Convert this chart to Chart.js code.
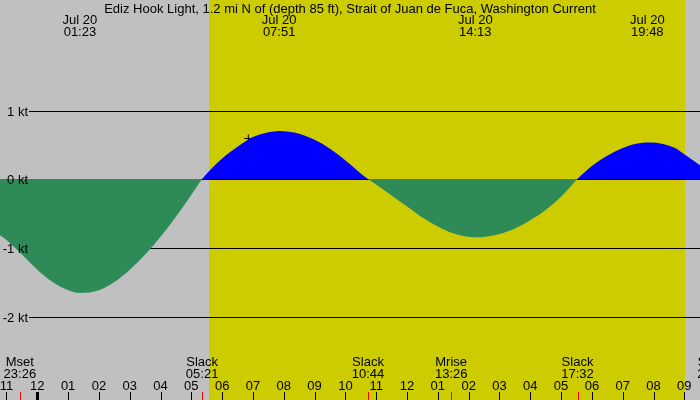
<!DOCTYPE html>
<html>
<head>
<meta charset="utf-8">
<script src="https://cdn.jsdelivr.net/npm/chart.js@4.4.1/dist/chart.umd.min.js"></script>
<style>
  html, body { margin: 0; padding: 0; background: #c0c0c0; }
  #wrap { width: 700px; height: 400px; }
</style>
</head>
<body>
<div id="wrap"><canvas id="currentChart" width="700" height="400"></canvas></div>
<script>
// current speed (kt), hours from midnight Jul 20
const hours  = [-1.21, -1, -0.5, 0, 0.5, 1, 1.38, 2, 2.5, 3, 3.5, 4, 4.5, 5, 5.35,
                6, 6.5, 7, 7.5, 7.85, 8.5, 9, 9.5, 10, 10.73,
                11, 11.5, 12, 12.5, 13, 13.5, 14.22, 15, 15.5, 16, 16.5, 17, 17.53,
                18, 18.5, 19, 19.4, 19.9, 20.3, 20.7, 21, 21.51];
const speeds = [-0.82, -0.89, -1.10, -1.32, -1.50, -1.62, -1.66, -1.62, -1.50, -1.32, -1.10, -0.84, -0.55, -0.23, 0,
                0.30, 0.47, 0.61, 0.68, 0.70, 0.66, 0.57, 0.44, 0.27, 0,
                -0.08, -0.24, -0.40, -0.56, -0.69, -0.79, -0.85, -0.80, -0.72, -0.60, -0.45, -0.26, 0,
                0.19, 0.34, 0.45, 0.51, 0.53, 0.51, 0.45, 0.36, 0.20];

const peakTimes = ['01:23', '07:51', '14:13', '19:48'];
const peakDate = 'Jul 20';

const eventNames = ['Mset', 'Slack', 'Slack', 'Mrise', 'Slack', 'Slack'];
const eventTimes = ['23:26', '05:21', '10:44', '13:26', '17:32', '21:57'];
const eventDays  = [-1, 0, 0, 0, 0, 0];

const hourLabels = ['11', '12', '01', '02', '03', '04', '05', '06', '07', '08', '09', '10', '11', '12', '01', '02', '03', '04', '05', '06', '07', '08', '09'];
const firstHour = -1;

const ktTicks = [1, 0, -1, -2];
const sunrise = '05:34';
const sunset = '21:01';
const nowTime = '06:51';
const nowSpeed = 0.59;

const title = 'Ediz Hook Light, 1.2 mi N of (depth 85 ft), Strait of Juan de Fuca, Washington Current';

function toHours(t, day) {
  const [h, m] = t.split(':').map(Number);
  return h + m / 60 + (day || 0) * 24;
}

const FONT = '13px "Liberation Sans", Arial, sans-serif';

const tidePlugin = {
  id: 'tide',
  beforeDraw(chart) {
    const { ctx, scales: { x } } = chart;
    ctx.save();
    ctx.fillStyle = '#c0c0c0';
    ctx.fillRect(0, 0, chart.width, chart.height);
    const x0 = Math.round(x.getPixelForValue(toHours(sunrise)));
    const x1 = Math.round(x.getPixelForValue(toHours(sunset)));
    ctx.fillStyle = '#cccc00';
    ctx.fillRect(x0, 0, x1 - x0, chart.height);
    ctx.restore();
  },
  beforeDatasetsDraw(chart) {
    const { ctx, scales: { y } } = chart;
    ctx.save();
    ctx.fillStyle = '#000';
    ktTicks.forEach(v => {
      const row = Math.ceil(y.getPixelForValue(v) - 1e-6);
      ctx.fillRect(29, row, chart.width - 29, 1);
    });
    ctx.restore();
  },
  afterDatasetsDraw(chart) {
    const { ctx, scales: { x, y } } = chart;
    ctx.save();
    ctx.fillStyle = '#000';
    ctx.font = FONT;
    ctx.textBaseline = 'alphabetic';

    ctx.textAlign = 'center';
    ctx.fillText(title, 350, 13);

    peakTimes.forEach(t => {
      const px = x.getPixelForValue(toHours(t));
      ctx.fillText(peakDate, px, 24);
      ctx.fillText(t, px, 36);
    });

    // kt labels
    ctx.textAlign = 'right';
    ctx.textBaseline = 'middle';
    ktTicks.forEach(v => {
      const row = Math.ceil(y.getPixelForValue(v) - 1e-6);
      ctx.fillText(v + ' kt', 28, row + 1);
    });

    // events
    ctx.textAlign = 'center';
    ctx.textBaseline = 'alphabetic';
    eventNames.forEach((name, i) => {
      const h = toHours(eventTimes[i], eventDays[i]);
      const px = x.getPixelForValue(h);
      ctx.fillStyle = '#000';
      ctx.fillText(name, px, 366);
      ctx.fillText(eventTimes[i], px, 378);
      ctx.fillStyle = '#ff0000';
      ctx.fillRect(Math.round(px), 392, 1, 8);
    });

    // hour ticks
    ctx.fillStyle = '#000';
    hourLabels.forEach((lab, i) => {
      const h = firstHour + i;
      const px = x.getPixelForValue(h);
      ctx.fillText(lab, px, 390);
      if (h % 24 === 0) ctx.fillRect(Math.round(px) - 1, 392, 3, 8);
      else ctx.fillRect(Math.round(px), 392, 1, 8);
    });
    ctx.restore();
  }
};

const ctx = document.getElementById('currentChart').getContext('2d');
const chart = new Chart(ctx, {
  type: 'line',
  data: {
    datasets: [{
      label: 'Current',
      data: hours.map((h, i) => ({ x: h, y: speeds[i] })),
      borderWidth: 0,
      borderColor: 'rgba(0,0,0,0)',
      pointRadius: 0,
      cubicInterpolationMode: 'monotone',
      fill: { target: 'origin', above: '#0000ff', below: '#2e8b57' }
    }, {
      label: 'Now',
      type: 'scatter',
      data: [{ x: toHours(nowTime), y: nowSpeed }],
      pointStyle: 'cross',
      pointRadius: 4,
      borderColor: '#000',
      borderWidth: 1
    }]
  },
  options: {
    responsive: false,
    animation: false,
    layout: { padding: 0, autoPadding: false },
    plugins: {
      legend: { display: false },
      tooltip: { enabled: false }
    },
    scales: {
      x: { type: 'linear', display: false, min: -37.3 / 30.81, max: (700 - 37.3) / 30.81 },
      y: { type: 'linear', display: false, min: -221 / 68.67, max: 179 / 68.67 }
    }
  },
  plugins: [tidePlugin]
});
</script>
</body>
</html>
